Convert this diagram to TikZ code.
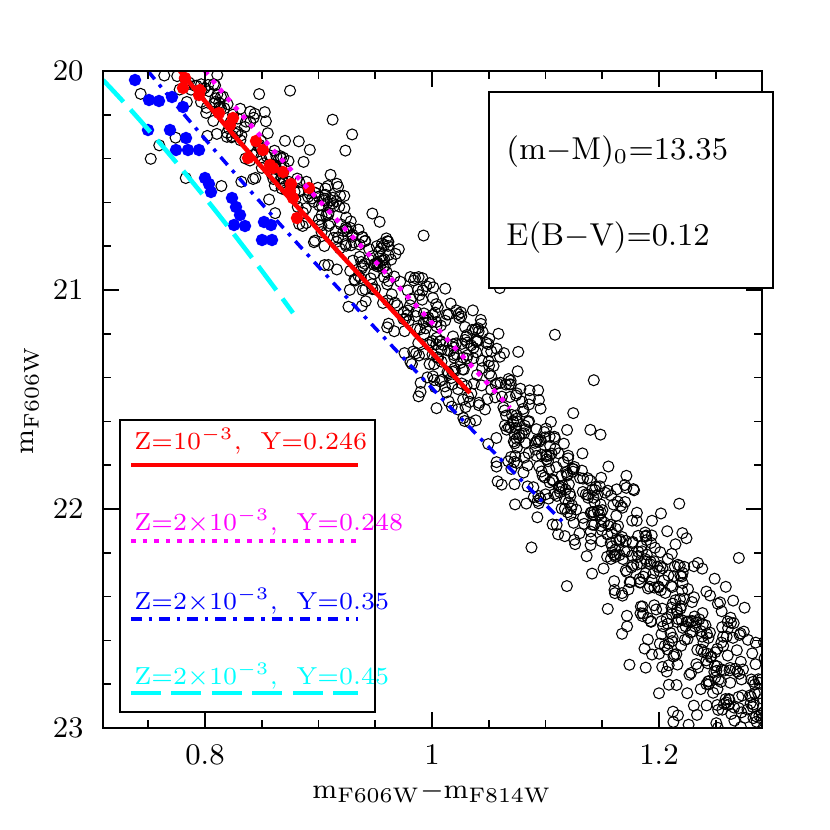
\documentclass[tikz,border=0pt]{standalone}
\usetikzlibrary{positioning}
\definecolor{pcyan}{rgb}{0,1,1}
\definecolor{pmagenta}{rgb}{1,0,1}
\tikzset{
  star/.style={draw=black,line width=0.3pt},
  redpt/.style={fill=red,draw=red},
  bluept/.style={fill=blue,draw=blue},
  tick/.style={line width=0.5pt},
  longdash/.style={pcyan,line width=1.3pt,dash pattern=on 8.5pt off 3pt},
}
\begin{document}
\begin{tikzpicture}[x=0.01cm,y=-0.01cm]
    \useasboundingbox (0,0) rectangle (830,830);
    \pgfmathsetseed{4217}
    % stars of the sequence (px: X=432+(c-1)*1135, Y=728-(23-m)*219)
    \begin{scope}
    \clip (103,71) rectangle (762,728);
    \foreach \i in {1,...,950} {
      \pgfmathsetmacro\dm{3*abs(rand)^0.75}
      \pgfmathsetmacro\sig{0.016+0.006*\dm}
      \pgfmathsetmacro\cc{0.785+0.19*\dm-0.006*\dm*\dm+\sig*(rand+rand+rand)}
      \draw[star] ({432+(\cc-1)*1135},{71+\dm*219}) circle (5.5);
    }
    \foreach \i in {1,...,60} {
      \pgfmathsetmacro\dm{3*abs(rand)}
      \pgfmathsetmacro\cc{0.785+0.19*\dm-0.006*\dm*\dm+0.11*rand}
      \draw[star] ({432+(\cc-1)*1135},{71+\dm*219}) circle (5.5);
    }
    \foreach \p in {(183,88),(199,95),(219,113),(233,118),(256,141),(263,150),(273,168),(283,172),(291,184),(290,191),(309,188),(293,198),(297,218),(270,165),(248,158),(230,125),(200,90),(185,78)}
      \filldraw[redpt] \p circle (5.5);
    \foreach \p in {(135,80),(149,100),(159,101),(172,97),(183,107),(148,130),(170,130),(186,138),(188,150),(176,150),(199,150),(205,178),(209,184),(211,192),(232,198),(236,207),(240,215),(234,225),(245,226),(264,222),(272,240),(262,240),(271,225)}
      \filldraw[bluept] \p circle (5.5);
    % isochrones
    \draw[red,line width=1.3pt] (180,71) .. controls (240,145) and (330,245) .. (470,393);
    \draw[pmagenta,line width=1.3pt,dotted] (205,71) .. controls (260,140) and (380,265) .. (510,408);
    \draw[blue,line width=1pt,dash dot] (148,71) .. controls (220,160) and (380,340) .. (566,525);
    \draw[longdash] (103,80) .. controls (170,150) and (240,240) .. (293,313);
    \end{scope}
    % frame and ticks
    \draw[tick] (103,71) rectangle (762,728);
    \foreach \c in {0.75,0.8,...,1.28} {
      \pgfmathsetmacro\X{432+(\c-1)*1135}
      \draw[tick] (\X,728) -- ++(0,-8) (\X,71) -- ++(0,8);
    }
    \foreach \c in {0.8,1.0,1.2} {
      \pgfmathsetmacro\X{432+(\c-1)*1135}
      \draw[tick] (\X,728) -- ++(0,-16) (\X,71) -- ++(0,16);
    }
    \foreach \m in {20.2,20.4,...,22.9} {
      \pgfmathsetmacro\Y{728-(23-\m)*219}
      \draw[tick] (103,\Y) -- ++(8,0) (762,\Y) -- ++(-8,0);
    }
    \foreach \m in {21,22} {
      \pgfmathsetmacro\Y{728-(23-\m)*219}
      \draw[tick] (103,\Y) -- ++(16,0) (762,\Y) -- ++(-16,0);
    }
    \node (x08) at (205,755) {\fontsize{8.5}{9}\selectfont 0.8};
    \node (x10) at (432,755) {\fontsize{8.5}{9}\selectfont 1};
    \node (x12) at (659,755) {\fontsize{8.5}{9}\selectfont 1.2};
    \node[left] (y20) at (96,71) {\fontsize{8.5}{9}\selectfont 20};
    \node[left] (y21) at (96,290) {\fontsize{8.5}{9}\selectfont 21};
    \node[left] (y22) at (96,509) {\fontsize{8.5}{9}\selectfont 22};
    \node[left] (y23) at (96,728) {\fontsize{8.5}{9}\selectfont 23};
    \node (xlab) at (432,792) {\fontsize{8}{9}\selectfont m$_{\mathrm{F606W}}$$-$m$_{\mathrm{F814W}}$};
    \node[rotate=90] (ylab) at (30,400) {\fontsize{8}{9}\selectfont m$_{\mathrm{F606W}}$};
    % info box
    \draw[tick,fill=white] (489,92) rectangle (773,288);
    \node[anchor=west] (dist) at (494,152) {\fontsize{9}{10}\selectfont (m$-$M)$_0$=13.35};
    \node[anchor=west] (redd) at (494,238) {\fontsize{9}{10}\selectfont E(B$-$V)=0.12};
    % legend
    \draw[tick,fill=white] (120,420) rectangle (375,712);
    \node[anchor=west,red] (l1) at (122,441) {\fontsize{7}{8}\selectfont Z=10$^{-3}$,\ \ Y=0.246};
    \draw[red,line width=1.3pt] (131,465) -- (358,465);
    \node[anchor=west,pmagenta] (l2) at (122,522) {\fontsize{7}{8}\selectfont Z=2$\times$10$^{-3}$,\ \ Y=0.248};
    \draw[pmagenta,line width=1.3pt,dotted] (131,541) -- (358,541);
    \node[anchor=west,blue] (l3) at (122,601) {\fontsize{7}{8}\selectfont Z=2$\times$10$^{-3}$,\ \ Y=0.35};
    \draw[blue,line width=1pt,dash dot] (131,619) -- (358,619);
    \node[anchor=west,pcyan] (l4) at (122,676) {\fontsize{7}{8}\selectfont Z=2$\times$10$^{-3}$,\ \ Y=0.45};
    \draw[longdash] (131,693) -- (358,693);
\end{tikzpicture}
\end{document}
